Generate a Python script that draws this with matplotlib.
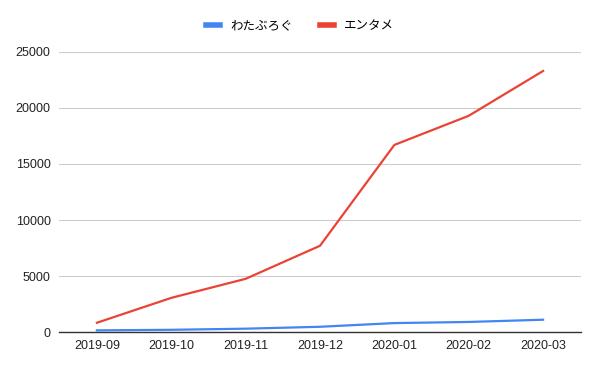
import matplotlib.pyplot as plt

plt.rcParams['font.family'] = ['Liberation Sans', 'Noto Sans CJK JP', 'DejaVu Sans']

months = ['2019-09', '2019-10', '2019-11', '2019-12', '2020-01', '2020-02', '2020-03']
watablog = [150, 200, 300, 470, 800, 900, 1100]
entame = [830, 3050, 4750, 7700, 16700, 19300, 23300]

fig = plt.figure(figsize=(6, 3.71), dpi=100)
ax = fig.add_axes([0.0983, 0.105, 0.87, 0.755])

x = range(len(months))
ax.plot(x, watablog, color='#4285F4', linewidth=1.6, label='わたぶろぐ')
ax.plot(x, entame, color='#EA4335', linewidth=1.6, label='エンタメ')

ax.set_xlim(-0.51, 6.51)
ax.set_ylim(0, 25000)
ax.set_yticks([0, 5000, 10000, 15000, 20000, 25000])
ax.set_xticks(list(x))
ax.set_xticklabels(months)
ax.tick_params(axis='both', length=0, labelsize=9, colors='#222222', pad=6)
ax.grid(axis='y', color='#cccccc', linewidth=0.8)
ax.set_axisbelow(True)
for s in ['top', 'right', 'left']:
    ax.spines[s].set_visible(False)
ax.spines['bottom'].set_color('#333333')
ax.spines['bottom'].set_linewidth(1)

leg = fig.legend(loc='upper center', bbox_to_anchor=(0.5, 0.975), ncol=2, frameon=False,
                 fontsize=9, handlelength=1.1, columnspacing=2.2, handletextpad=0.8)
for h in leg.get_lines():
    h.set_linewidth(4)

fig.savefig('out.png', dpi=100)
